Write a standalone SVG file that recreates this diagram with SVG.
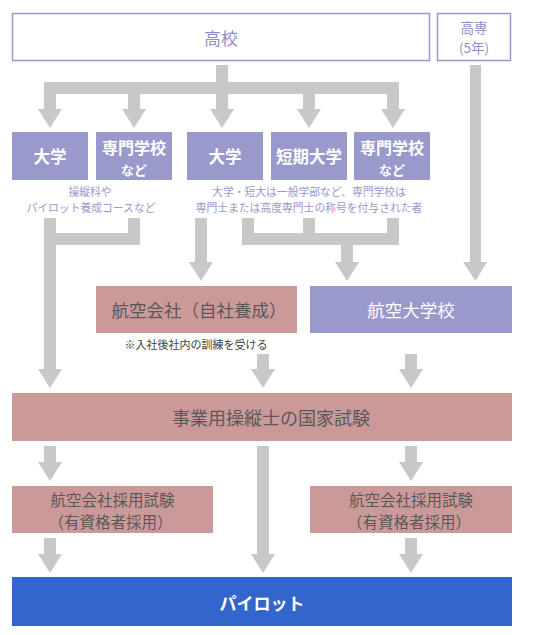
<svg xmlns="http://www.w3.org/2000/svg" width="553" height="635" viewBox="0 0 553 635">
<style>
text{font-family:"Noto Sans CJK JP","Noto Sans",sans-serif;text-anchor:middle;dominant-baseline:central}
.out{fill:#fff;stroke:#9999CC;stroke-width:1.5}
.pur{fill:#9999CC}
.pink{fill:#CC9999}
.blue{fill:#3366CC}
.arr{fill:#C8C8C8}
.tout{fill:#8F8FC8}
.tw{fill:#fff;font-weight:bold}
.tp{fill:#fff}
.td{fill:#595959}
.small{fill:#9999CC;font-size:10.8px}
.note{fill:#404040;font-size:11px}
</style>
<rect width="553" height="635" fill="#fff"/>
<g id="connectors" class="arr">
  <rect x="216" y="65" width="12" height="29"/>
  <rect x="44" y="82" width="355" height="12"/>
  <rect x="44" y="94" width="12" height="15"/><polygon points="38,109 62,109 50,128"/>
  <rect x="128" y="94" width="12" height="15"/><polygon points="122,109 146,109 134,128"/>
  <rect x="216" y="94" width="12" height="15"/><polygon points="210,109 234,109 222,128"/>
  <rect x="303" y="94" width="12" height="15"/><polygon points="297,109 321,109 309,128"/>
  <rect x="387" y="94" width="12" height="15"/><polygon points="381,109 405,109 393,128"/>
  <rect x="470" y="65" width="11" height="197"/><polygon points="463,262 487,262 475.5,281"/>
  <rect x="44" y="218" width="12" height="151"/>
  <rect x="128" y="218" width="12" height="27"/>
  <rect x="44" y="233" width="96" height="12"/>
  <polygon points="38,369 62,369 50,388"/>
  <rect x="195" y="218" width="12" height="44"/><polygon points="189,262 213,262 201,281"/>
  <rect x="242" y="218" width="12" height="27"/>
  <rect x="303" y="218" width="12" height="27"/>
  <rect x="387" y="218" width="12" height="27"/>
  <rect x="242" y="233" width="157" height="12"/>
  <rect x="341" y="245" width="12" height="17"/><polygon points="335,262 359,262 347,281"/>
  <rect x="257" y="354" width="12" height="15"/><polygon points="251,369 275,369 263,388"/>
  <rect x="405" y="354" width="12" height="15"/><polygon points="399,369 423,369 411,388"/>
  <rect x="44" y="446" width="12" height="16"/><polygon points="38,462 62,462 50,481"/>
  <rect x="257" y="446" width="12" height="108"/><polygon points="251,554 275,554 263,573"/>
  <rect x="405" y="446" width="12" height="16"/><polygon points="399,462 423,462 411,481"/>
  <rect x="44" y="538" width="12" height="16"/><polygon points="38,554 62,554 50,573"/>
  <rect x="405" y="538" width="12" height="16"/><polygon points="399,554 423,554 411,573"/>
</g>
<g id="koukou"><rect class="out" x="12.5" y="13.5" width="417" height="47"/><text class="tout" x="221" y="37" font-size="17">高校</text></g>
<g id="kousen"><rect class="out" x="437.5" y="13.5" width="73" height="47"/><text class="tout" x="474" y="27" font-size="13.5">高専</text><text class="tout" x="474" y="47" font-size="13.5">(5年)</text></g>
<g id="daigaku1"><rect class="pur" x="12" y="132" width="76" height="48"/><text class="tw" x="50" y="156" font-size="16.5">大学</text></g>
<g id="senmon1"><rect class="pur" x="96" y="132" width="76" height="48"/><text class="tw" x="134" y="146.5" font-size="16">専門学校</text><text class="tw" x="134" y="169" font-size="13">など</text></g>
<g id="daigaku2"><rect class="pur" x="187" y="132" width="76" height="48"/><text class="tw" x="225" y="156" font-size="16.5">大学</text></g>
<g id="tanki"><rect class="pur" x="271" y="132" width="76" height="48"/><text class="tw" x="309" y="156" font-size="16.5">短期大学</text></g>
<g id="senmon2"><rect class="pur" x="354" y="132" width="76" height="48"/><text class="tw" x="392" y="146.5" font-size="16">専門学校</text><text class="tw" x="392" y="169" font-size="13">など</text></g>
<g id="note-left"><text class="small" x="90" y="191">操縦科や</text><text class="small" x="91" y="207">パイロット養成コースなど</text></g>
<g id="note-right"><text class="small" x="309" y="191">大学・短大は一般学部など、専門学校は</text><text class="small" x="309" y="207">専門士または高度専門士の称号を付与された者</text></g>
<g id="jisha"><rect class="pink" x="96" y="286" width="201" height="47"/><text class="td" x="199" y="309" font-size="17.5">航空会社（自社養成）</text></g>
<g id="note-jisha"><text class="note" x="196" y="344">※入社後社内の訓練を受ける</text></g>
<g id="koukudai"><rect class="pur" x="310" y="286" width="202" height="47"/><text class="tp" x="411" y="309" font-size="17.5">航空大学校</text></g>
<g id="kokka"><rect class="pink" x="12" y="393" width="500" height="48"/><text class="td" x="271" y="417" font-size="18">事業用操縦士の国家試験</text></g>
<g id="saiyou1"><rect class="pink" x="12" y="486" width="201" height="47"/><text class="td" x="112.5" y="498.5" font-size="15.5">航空会社採用試験</text><text class="td" x="110.5" y="521" font-size="15.5">（有資格者採用）</text></g>
<g id="saiyou2"><rect class="pink" x="310" y="486" width="202" height="47"/><text class="td" x="411" y="498.5" font-size="15.5">航空会社採用試験</text><text class="td" x="409" y="521" font-size="15.5">（有資格者採用）</text></g>
<g id="pilot"><rect class="blue" x="12" y="577" width="500" height="49"/><text class="tw" x="262" y="602" font-size="17">パイロット</text></g>
</svg>
